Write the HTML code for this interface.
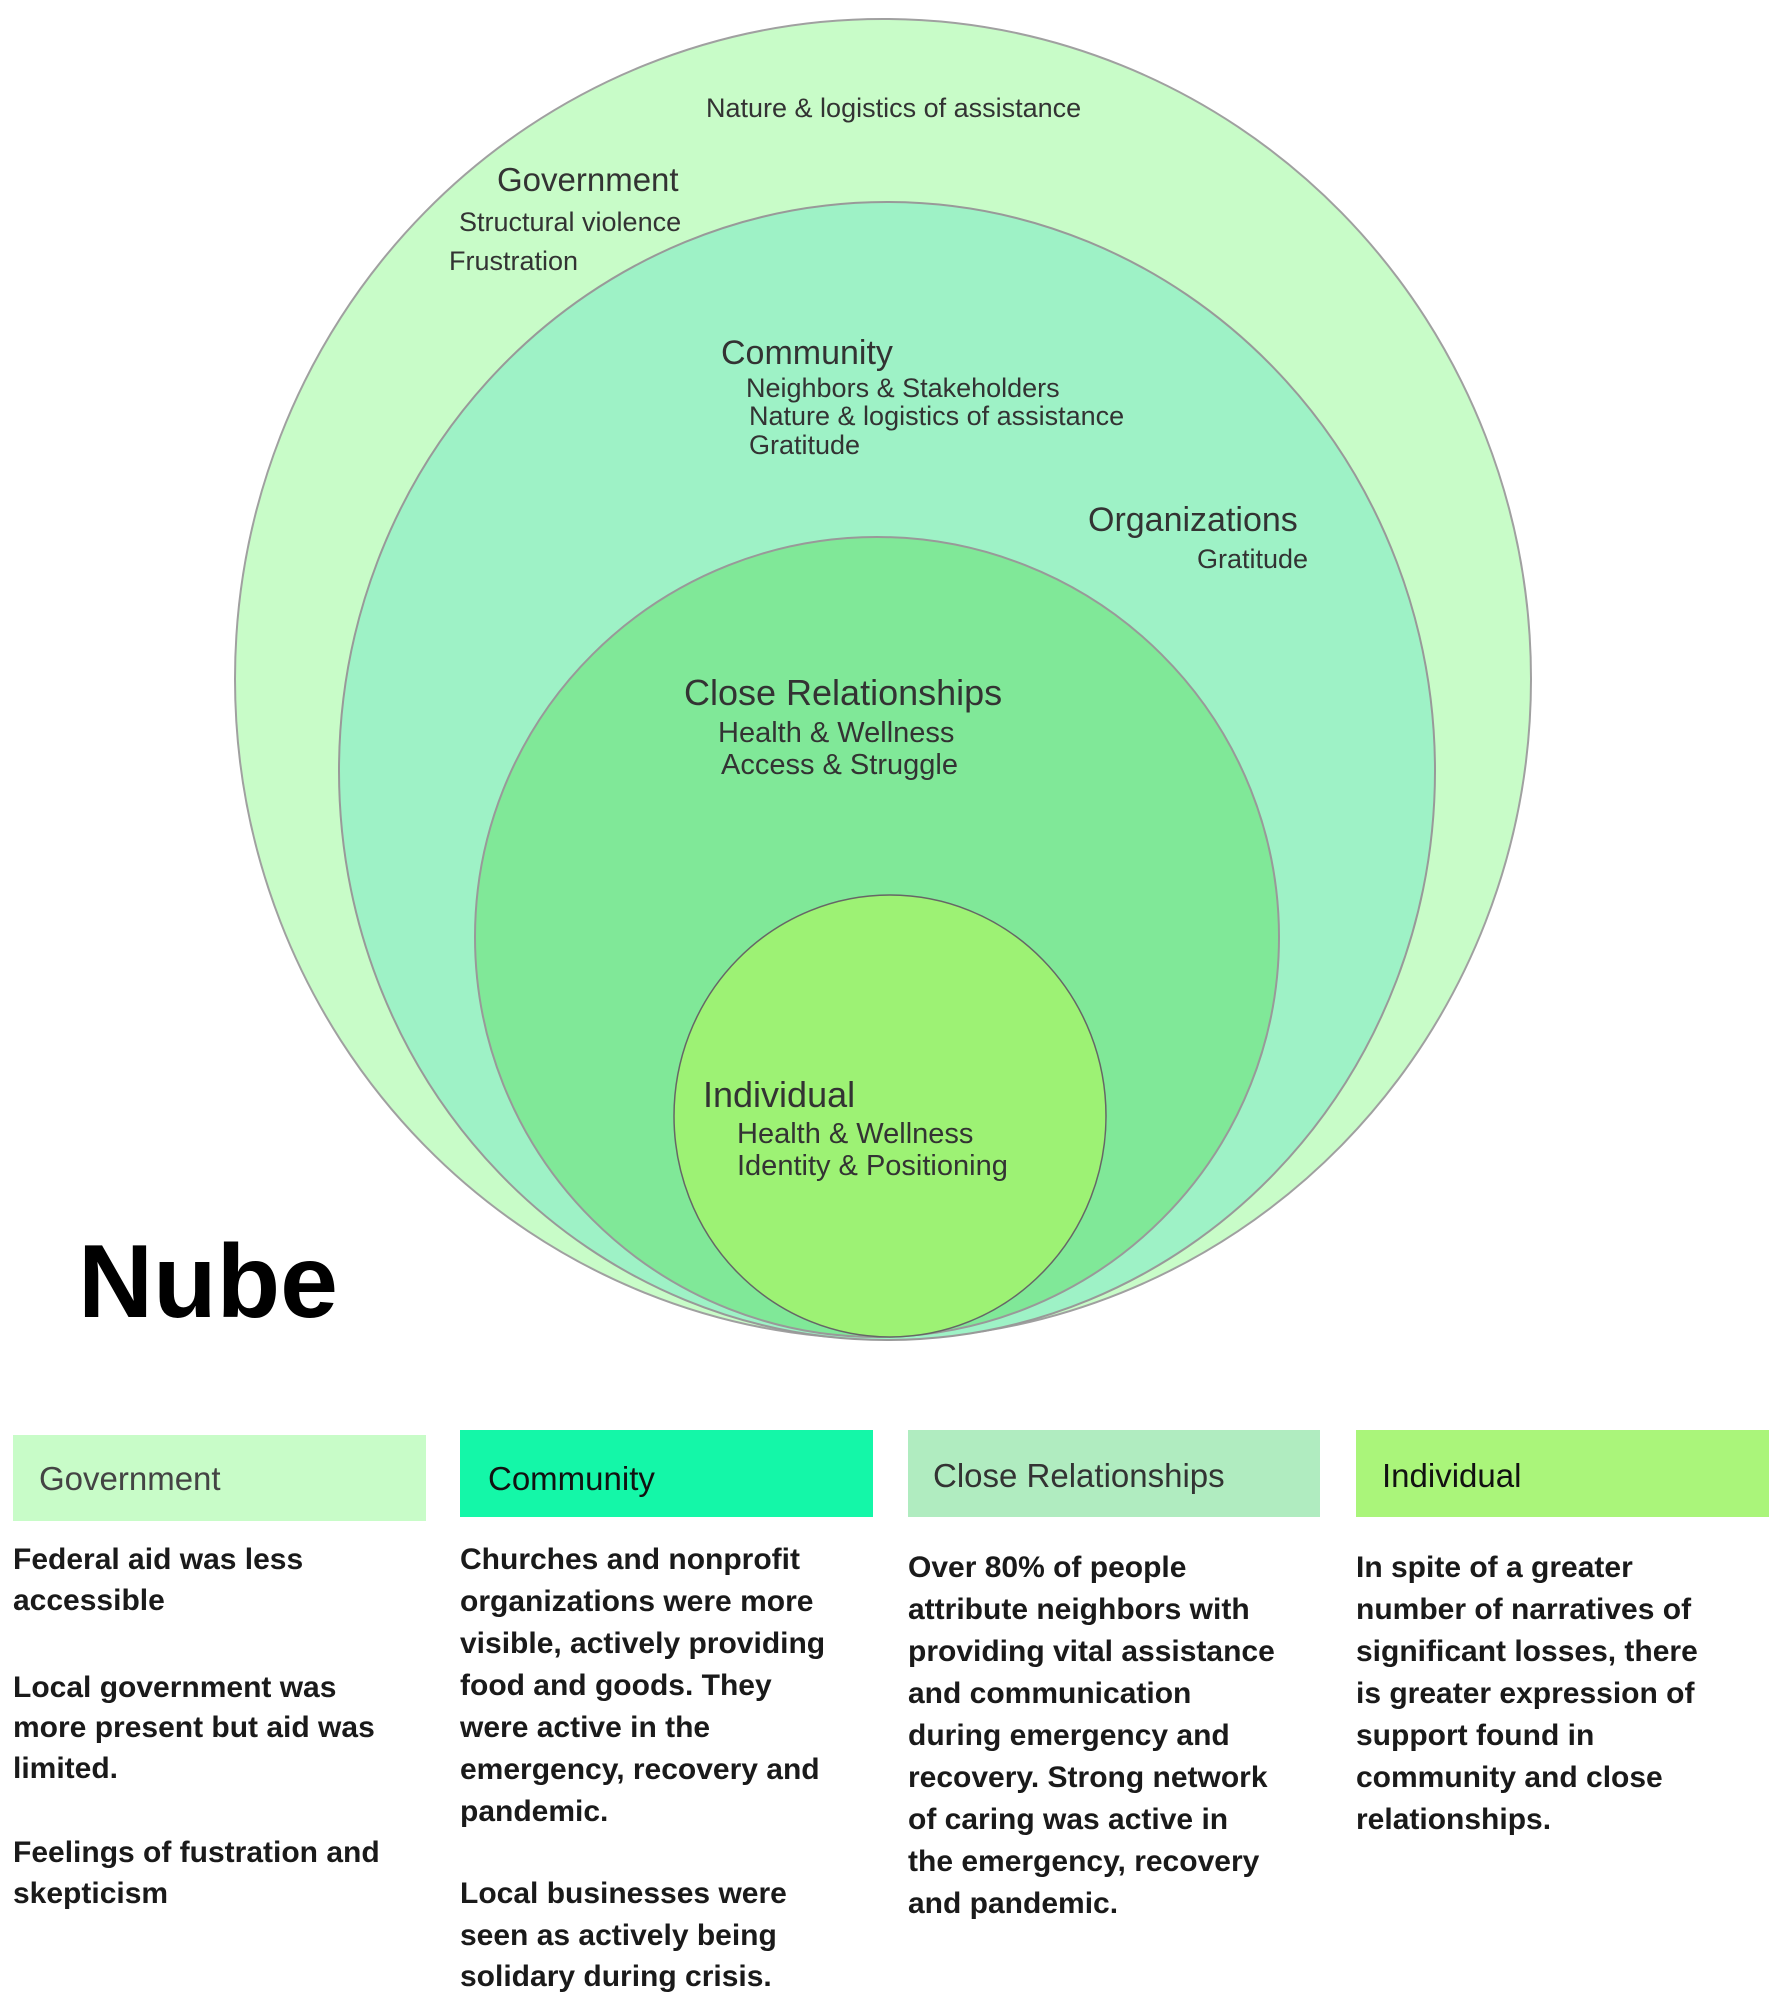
<!DOCTYPE html>
<html><head><meta charset="utf-8"><style>
html,body{margin:0;padding:0;background:#fff;}
svg{display:block;}
text{font-family:"Liberation Sans",sans-serif;}
.c{fill:#333;}
.b{fill:#1a1a1a;font-weight:bold;font-size:30px;}
</style></head><body>
<svg width="1772" height="1998" viewBox="0 0 1772 1998" xmlns="http://www.w3.org/2000/svg">
<rect width="1772" height="1998" fill="#fff"/>
<ellipse cx="883" cy="679" rx="648" ry="660" fill="#c8fcc8" stroke="#a0a0a0" stroke-width="2"/>
<ellipse cx="887" cy="771" rx="548" ry="569" fill="#9ef2c6" stroke="#999" stroke-width="2"/>
<ellipse cx="877" cy="937" rx="402" ry="400" fill="#80e898" stroke="#999" stroke-width="2"/>
<ellipse cx="890" cy="1116" rx="216" ry="221" fill="#9df274" stroke="#666" stroke-width="1.5"/>

<g class="c">
<text x="706" y="117" font-size="27">Nature &amp; logistics of assistance</text>
<text x="497" y="191" font-size="33">Government</text>
<text x="459" y="231" font-size="27">Structural violence</text>
<text x="449" y="270" font-size="27">Frustration</text>
<text x="721" y="364" font-size="34">Community</text>
<text x="746" y="397" font-size="27">Neighbors &amp; Stakeholders</text>
<text x="749" y="425" font-size="27">Nature &amp; logistics of assistance</text>
<text x="749" y="454" font-size="27">Gratitude</text>
<text x="1088" y="531" font-size="34">Organizations</text>
<text x="1197" y="568" font-size="27">Gratitude</text>
<text x="684" y="705" font-size="36">Close Relationships</text>
<text x="718" y="742" font-size="29">Health &amp; Wellness</text>
<text x="721" y="774" font-size="29">Access &amp; Struggle</text>
<text x="703" y="1107" font-size="36">Individual</text>
<text x="737" y="1143" font-size="29">Health &amp; Wellness</text>
<text x="737" y="1175" font-size="29">Identity &amp; Positioning</text>
</g>
<text x="78" y="1317" font-size="104" font-weight="bold" fill="#000">Nube</text>

<rect x="13" y="1435" width="413" height="86" fill="#c8fcc8"/>
<rect x="460" y="1430" width="413" height="87" fill="#14f7a8"/>
<rect x="908" y="1430" width="412" height="87" fill="#b0ecc0"/>
<rect x="1356" y="1430" width="413" height="87" fill="#aaf57a"/>
<text x="39" y="1490" font-size="33" fill="#444">Government</text>
<text x="488" y="1490" font-size="33" fill="#111">Community</text>
<text x="933" y="1487" font-size="33" fill="#333">Close Relationships</text>
<text x="1382" y="1487" font-size="33" fill="#111">Individual</text>

<g class="b">
<text x="13" y="1569">Federal aid was less</text>
<text x="13" y="1610">accessible</text>
<text x="13" y="1697">Local government was</text>
<text x="13" y="1737">more present but aid was</text>
<text x="13" y="1778">limited.</text>
<text x="13" y="1862">Feelings of fustration and</text>
<text x="13" y="1903">skepticism</text>

<text x="460" y="1569">Churches and nonprofit</text>
<text x="460" y="1611">organizations were more</text>
<text x="460" y="1653">visible, actively providing</text>
<text x="460" y="1695">food and goods. They</text>
<text x="460" y="1737">were active in the</text>
<text x="460" y="1779">emergency, recovery and</text>
<text x="460" y="1821">pandemic.</text>
<text x="460" y="1903">Local businesses were</text>
<text x="460" y="1945">seen as actively being</text>
<text x="460" y="1986">solidary during crisis.</text>

<text x="908" y="1577">Over 80% of people</text>
<text x="908" y="1619">attribute neighbors with</text>
<text x="908" y="1661">providing vital assistance</text>
<text x="908" y="1703">and communication</text>
<text x="908" y="1745">during emergency and</text>
<text x="908" y="1787">recovery. Strong network</text>
<text x="908" y="1829">of caring was active in</text>
<text x="908" y="1871">the emergency, recovery</text>
<text x="908" y="1913">and pandemic.</text>

<text x="1356" y="1577">In spite of a greater</text>
<text x="1356" y="1619">number of narratives of</text>
<text x="1356" y="1661">significant losses, there</text>
<text x="1356" y="1703">is greater expression of</text>
<text x="1356" y="1745">support found in</text>
<text x="1356" y="1787">community and close</text>
<text x="1356" y="1829">relationships.</text>
</g>
</svg>
</body></html>
